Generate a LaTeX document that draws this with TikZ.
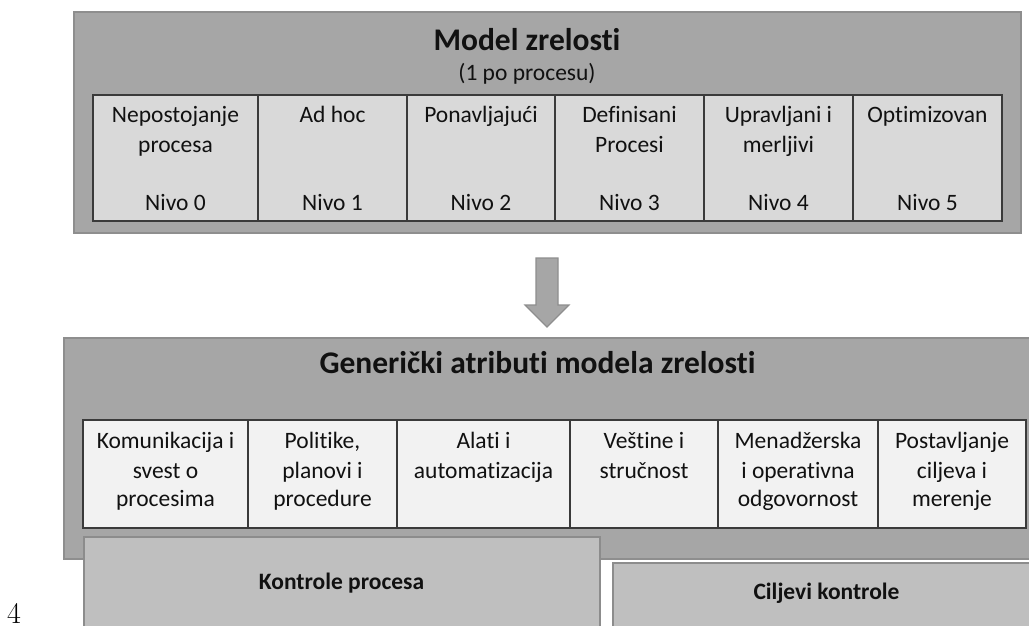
\documentclass[tikz,border=0pt]{standalone}
\usepackage{fontspec}
\setmainfont{Carlito}[Ligatures=NoCommon]
\newfontfamily\lmfont{Latin Modern Roman}
\definecolor{outerg}{HTML}{A6A6A6}
\definecolor{outerb}{HTML}{8E8E8E}
\definecolor{celltop}{HTML}{D9D9D9}
\definecolor{cellbot}{HTML}{F2F2F2}
\definecolor{cellline}{HTML}{3A3A3A}
\definecolor{ctrlg}{HTML}{BFBFBF}
\definecolor{ctrlb}{HTML}{8C8C8C}
\definecolor{txt}{HTML}{111111}
\begin{document}
\begin{tikzpicture}[x=1pt,y=-1pt,
  outerbox/.style={draw=outerb,fill=outerg,line width=1.5pt,inner sep=0pt},
  topcell/.style={draw=cellline,fill=celltop,line width=1.5pt,inner sep=0pt},
  botcell/.style={draw=cellline,fill=cellbot,line width=1.5pt,inner sep=0pt},
  ctrlbox/.style={draw=ctrlb,fill=ctrlg,line width=1.8pt,inner sep=0pt},
  body/.style={anchor=base,inner sep=0pt,text=txt,font=\fontsize{23.5}{28}\selectfont},
  bigtitle/.style={anchor=base,inner sep=0pt,text=txt,font=\fontsize{31.5}{36}\selectfont\bfseries},
  lbl/.style={anchor=base,inner sep=0pt,text=txt,font=\fontsize{23.5}{28}\selectfont\bfseries},
  blockarrow/.style={draw=outerb,fill=outerg,line width=1.2pt,line join=miter}]
\useasboundingbox (0,0) rectangle (1029,625);

% top box
\node[outerbox,minimum width=947,minimum height=221] (model) at (547.5,122.5) {};
\node[bigtitle] (modeltitle) at (527,50) {Model zrelosti};
\node[body] (modelsub) at (527,80.5) {(1 po procesu)};
\foreach \a/\b/\l/\m/\n [count=\i] in {
  93/258/Nepostojanje/procesa/Nivo 0,
  258/407/Ad hoc//Nivo 1,
  407/555/Ponavljajući//Nivo 2,
  555/704/Definisani/Procesi/Nivo 3,
  704/853/Upravljani i/merljivi/Nivo 4,
  853/1002/Optimizovan//Nivo 5}{
  \node[topcell,minimum width={\b-\a},minimum height=126] (t\i) at ({(\a+\b)/2},158) {};
  \node[body] (t\i l) at ({(\a+\b)/2},122.7) {\l};
  \node[body] (t\i m) at ({(\a+\b)/2},152.7) {\m};
  \node[body] (t\i n) at ({(\a+\b)/2},210.7) {\n};
}

% arrow
\draw[blockarrow] (536,258) -- (558,258) -- (558,305) -- (569,305) -- (547,327)
  -- (525,305) -- (536,305) -- cycle;

% bottom box
\node[outerbox,minimum width=980,minimum height=221] (attr) at (554,448.5) {};
\node[bigtitle] (attrtitle) at (537.5,373.3) {Generički atributi modela zrelosti};
\foreach \a/\b/\l/\m/\n [count=\i] in {
  83/248/Komunikacija i/svest o/procesima,
  248/397/{Politike,}/planovi i/procedure,
  397/570/Alati i/automatizacija/,
  570/718/Veštine i/stručnost/,
  718/878/Menadžerska/i operativna/odgovornost,
  878/1026/Postavljanje/ciljeva i/merenje}{
  \node[botcell,minimum width={\b-\a},minimum height=108] (b\i) at ({(\a+\b)/2},474) {};
  \node[body] (b\i l) at ({(\a+\b)/2},448.3) {\l};
  \node[body] (b\i m) at ({(\a+\b)/2},478.3) {\m};
  \node[body] (b\i n) at ({(\a+\b)/2},506.7) {\n};
}

% control boxes
\node[ctrlbox,minimum width=516,minimum height=100] (kp) at (342,587) {};
\node[lbl] (kptext) at (341.5,589) {Kontrole procesa};
\node[draw=white,line width=3pt,fill=white,minimum width=434,minimum height=74,inner sep=0pt] (cw) at (828.5,598) {};
\node[ctrlbox,minimum width=427,minimum height=68] (ck) at (826.5,597) {};
\node[lbl] (cktext) at (826.5,599) {Ciljevi kontrole};

% page number
\node[anchor=base west,inner sep=0pt,font=\lmfont\fontsize{30}{32}\selectfont] (pnum) at (7,623) {4};
\end{tikzpicture}
\end{document}
